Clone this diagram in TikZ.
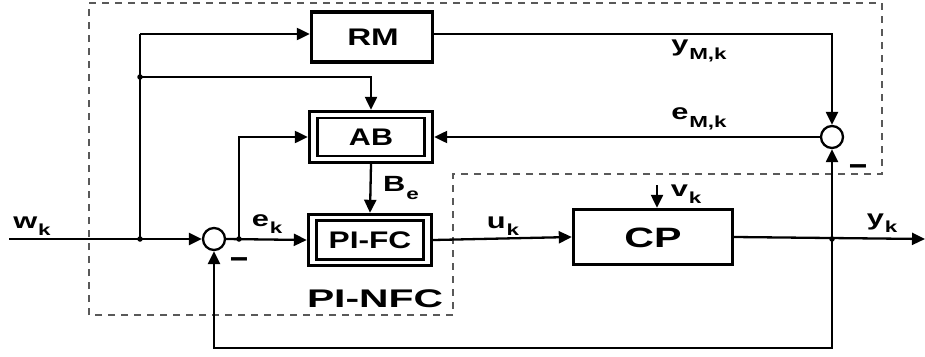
\documentclass[tikz,border=0pt]{standalone}
\usepackage{fontspec}
\setmainfont{Liberation Sans}
\usetikzlibrary{arrows.meta,calc}
\newcommand{\sx}[2]{\scalebox{#1}[1]{#2}}
\newcommand{\lab}[2]{\scalebox{1.4}[1]{\fontsize{22}{22}\selectfont\bfseries #1\kern0.6pt\raisebox{-7.5pt}{\fontsize{16}{16}\selectfont #2}}}
\newcommand{\mns}{\scalebox{1.7}[1.8]{\fontsize{19}{19}\selectfont\bfseries –}}
\begin{document}
\begin{tikzpicture}[x=1pt,y=-1pt,
  conn/.style={line width=2.3pt},
  arr/.style={conn,-{Triangle[length=13pt,width=12pt]}},
  blk/.style={draw,line width=3.4pt,inner sep=0pt,font=\bfseries},
  inblk/.style={draw,line width=2.2pt,inner sep=0pt,font=\bfseries},
  sumnode/.style={draw,circle,line width=2.3pt,minimum size=22pt,inner sep=0pt,fill=white},
  jdot/.style={circle,fill=black,inner sep=0pt,minimum size=5.5pt},
  txt/.style={inner sep=0pt},
  frame/.style={draw=black!65,line width=1.3pt,dash pattern=on 7pt off 6pt}]
\useasboundingbox (0,0) rectangle (925,356);
% dashed controller boundary
\draw[frame] (89,3) -- (882,3) -- (882,174) -- (453,174) -- (453,315) -- (89,315) -- cycle;
% blocks
\node[blk,minimum width=121pt,minimum height=50pt] (RM) at (372,37) {};
\node[txt] (RMt) at (373,37) {\sx{1.38}{\fontsize{24}{24}\selectfont\bfseries RM}};
\node[blk,minimum width=123pt,minimum height=51pt] (AB) at (371,137) {};
\node[inblk,minimum width=107pt,minimum height=38pt] (ABin) at (371,137) {\sx{1.27}{\fontsize{24}{24}\selectfont\bfseries AB}};
\node[blk,minimum width=123pt,minimum height=51pt] (PIFC) at (370,240) {};
\node[inblk,minimum width=107pt,minimum height=39pt] (PIFCin) at (370,240) {\sx{1.32}{\fontsize{24}{24}\selectfont\bfseries PI-FC}};
\node[blk,minimum width=159pt,minimum height=55pt] (CP) at (653,237) {};
\node[txt] (CPt) at (653,238) {\sx{1.47}{\fontsize{28}{28}\selectfont\bfseries CP}};
\node[txt] (NFC) at (375,299) {\sx{1.6}{\fontsize{25.5}{25.5}\selectfont\bfseries PI-NFC}};
% summing junctions
\node[sumnode] (S1) at (214,239) {};
\node[sumnode] (S2) at (832,137) {};
% coordinates
\coordinate (in) at (9,239);
\coordinate (out) at (925,239);
\coordinate (j1) at (140,239);
\coordinate (j2) at (140,77);
\coordinate (j3) at (239,239);
\coordinate (j4) at (832,239);
\coordinate (rmin) at (140,34);
\coordinate (fb) at (832,348);
\coordinate (vtop) at (657,185);
% connectors
\draw[arr] (in) -- (S1.west);
\draw[conn] (j1) -- (rmin);
\draw[arr] (rmin) -- (rmin -| RM.west);
\draw[arr] (j2) -| (AB.north);
\draw[arr] (j3) |- (AB.west);
\draw[arr] (S1.east) -- (PIFC.west);
\draw[arr] (AB.south) -- (PIFC.north);
\draw[arr] (PIFC.east) -- (CP.west);
\draw[arr] (vtop) -- (vtop |- CP.north);
\draw[arr] (CP.east) -- (out);
\draw[arr] (j4) -- (S2.south);
\draw[arr] (RM.east |- rmin) -| (S2.north);
\draw[arr] (S2.west) -- (AB.east);
\draw[arr] (j4) -- (fb) -| (S1.south);
% junction dots
\node[jdot] at (j1) {};
\node[jdot] at (j2) {};
\node[jdot] at (j3) {};
\node[jdot] at (j4) {};
% labels
\node[txt] (lw) at (32,226) {\lab{w}{k}};
\node[txt] (le) at (267,224) {\lab{e}{k}};
\node[txt] (lu) at (503,226) {\lab{u}{k}};
\node[txt] (lv) at (686,194) {\lab{v}{k}};
\node[txt] (ly) at (882,223) {\lab{y}{k}};
\node[txt] (lB) at (401,188) {\lab{B}{e}};
\node[txt] (lyM) at (699,51) {\lab{y}{M,k}};
\node[txt] (leM) at (699,119) {\lab{e}{M,k}};
\node[txt] (m1) at (239,263) {\mns};
\node[txt] (m2) at (858,170) {\mns};
\end{tikzpicture}
\end{document}
